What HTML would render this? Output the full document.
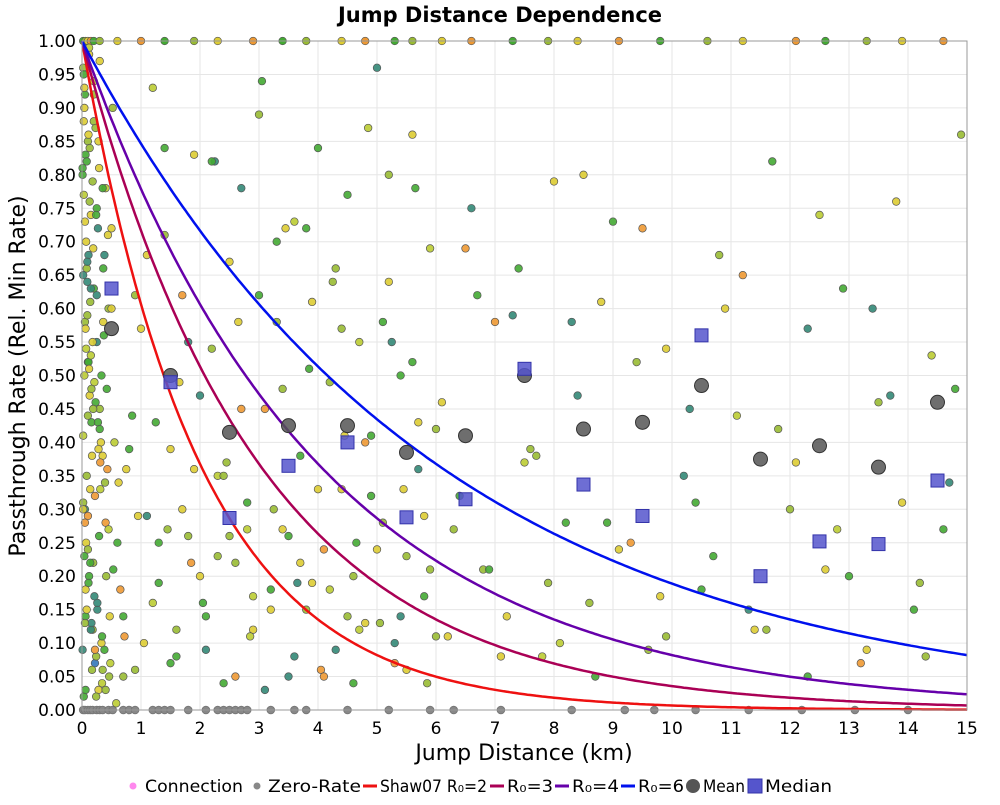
<!DOCTYPE html>
<html><head><meta charset="utf-8"><style>
body{margin:0;background:#fff;font-family:"Liberation Sans","DejaVu Sans",sans-serif}
</style></head><body>
<svg id="chart" width="1000" height="800" xmlns="http://www.w3.org/2000/svg" font-family="DejaVu Sans, Liberation Sans, sans-serif">
<rect width="1000" height="800" fill="#fff"/>
<text x="500" y="22" text-anchor="middle" font-size="21" font-weight="bold">Jump Distance Dependence</text>
<g id="grid"></g>
<g id="pts"></g>
<g id="curves"></g>
<g id="stats"></g>
<g id="axes"></g>
<text x="524" y="760" text-anchor="middle" font-size="22">Jump Distance (km)</text>
<text transform="translate(25,376) rotate(-90)" text-anchor="middle" font-size="22">Passthrough Rate (Rel. Min Rate)</text>
<g id="legend" font-size="17"></g>
</svg>
<script>
const xTicks=[0,1,2,3,4,5,6,7,8,9,10,11,12,13,14,15];
const yTicks=[0,0.05,0.1,0.15,0.2,0.25,0.3,0.35,0.4,0.45,0.5,0.55,0.6,0.65,0.7,0.75,0.8,0.85,0.9,0.95,1.0];
const r0Values=[2,3,4,6];
const r0Colors=['#ee1111','#aa0055','#6600aa','#0011ee'];
const binCenters=[0.5,1.5,2.5,3.5,4.5,5.5,6.5,7.5,8.5,9.5,10.5,11.5,12.5,13.5,14.5];
const meanValues=[0.57,0.50,0.415,0.425,0.425,0.385,0.41,0.50,0.42,0.43,0.485,0.375,0.395,0.363,0.46];
const medianValues=[0.63,0.49,0.287,0.365,0.40,0.288,0.315,0.51,0.337,0.29,0.56,0.20,0.252,0.248,0.343];
const palette=['#44aa33','#99bb33','#ddcc33','#ee9933','#338877','#3377bb','#bbcc33'];
const connX=[0.05,0.1,0.15,0.2,0.25,0.3,0.35,0.4,0.12,0.18,0.22,0.28,0.33,0.08,0.14,0.26,0.38,0.45,0.5,0.55,0.6,0.65,0.7,0.75,0.05,0.1,0.2,0.3,0.4,0.16,0.24,0.36,0.06,0.11,0.19,0.29,0.42,0.52,0.62,0.72,0.85,0.9,1.0,1.1,1.2,1.3,1.4,1.5,1.6,1.7,1.8,1.9,2.0,2.1,2.2,2.3,2.4,2.5,2.6,2.7,2.8,2.9,3.0,3.1,3.2,3.3,3.4,3.5,3.6,3.7,3.8,3.9,4.0,4.1,4.2,4.3,4.4,4.5,4.6,4.7,4.8,4.9,5.0,5.1,5.2,5.3,5.4,5.5,5.6,5.7,5.8,5.9,6.0,6.2,6.4,6.6,6.8,7.0,7.2,7.4,7.6,7.8,8.0,8.2,8.4,8.6,8.8,9.0,9.3,9.6,9.9,10.2,10.5,10.8,11.1,11.4,11.7,12.0,12.3,12.6,12.9,13.2,13.5,13.8,14.1,14.4,14.7,14.9,1.05,1.25,1.45,1.65,1.85,2.05,2.25,2.45,2.65,2.85,3.05,3.25,3.45,3.65,3.85,4.05,4.25,4.45,4.65,4.85,5.05,5.25,5.45,5.65,5.85,6.1,6.5,6.9,7.3,7.7,8.1,8.5,8.9,9.4,9.8,10.3,10.7,11.2,11.6,12.1,12.5,13.0,13.4,13.9,14.3,14.8,0.9,0.95,0.7,0.8];
const connY=[0.92,0.85,0.74,0.63,0.55,0.45,0.38,0.28,0.2,0.12,0.07,0.03,0.5,0.66,0.33,0.15,0.09,0.6,0.72,0.4,0.25,0.18,0.05,0.36,0.3,0.52,0.88,0.97,0.78,0.43,0.02,0.58,0.14,0.68,0.22,0.81,0.48,0.9,0.34,0.11,0.44,0.06,0.57,0.29,0.93,0.19,0.71,0.39,0.08,0.62,0.26,0.83,0.47,0.14,0.54,0.35,0.04,0.67,0.22,0.78,0.31,0.12,0.89,0.45,0.18,0.58,0.27,0.05,0.73,0.38,0.15,0.61,0.84,0.24,0.49,0.09,0.33,0.77,0.2,0.55,0.13,0.41,0.96,0.28,0.64,0.07,0.5,0.23,0.86,0.36,0.17,0.69,0.42,0.11,0.32,0.75,0.21,0.58,0.14,0.66,0.39,0.08,0.79,0.28,0.47,0.16,0.61,0.73,0.25,0.09,0.54,0.35,0.18,0.68,0.44,0.12,0.82,0.3,0.57,0.21,0.63,0.07,0.46,0.76,0.15,0.53,0.34,0.86,0.1,0.43,0.27,0.49,0.22,0.16,0.82,0.37,0.58,0.11,0.94,0.3,0.72,0.19,0.51,0.06,0.64,0.41,0.25,0.87,0.13,0.55,0.33,0.78,0.04,0.46,0.69,0.21,0.59,0.38,0.1,0.8,0.28,0.52,0.17,0.45,0.23,0.65,0.12,0.37,0.74,0.2,0.6,0.31,0.08,0.48,0.62,0.29,0.14,0.39,0.73,0.96,0.91,0.99];
const connC=[0,1,2,0,4,1,2,3,0,1,5,2,0,1,2,4,0,1,2,6,0,3,1,2,4,0,1,2,6,0,1,2,0,4,1,2,0,1,2,3,0,1,2,4,6,0,1,2,0,3,1,2,4,0,1,6,0,2,1,4,0,2,1,3,0,1,2,4,6,0,1,2,0,3,1,4,2,0,1,6,2,0,4,1,2,3,0,1,2,4,0,6,1,2,0,4,1,3,2,0,1,6,2,0,4,1,2,0,3,1,2,4,0,1,6,2,0,1,4,2,0,3,1,2,0,6,4,1,2,0,1,2,3,0,4,1,2,6,0,1,2,4,0,3,1,2,0,6,1,4,2,0,1,2,3,0,4,1,6,2,0,1,2,4,0,3,1,2,6,0,4,2,1,0,1,2,0];
const nearX=[0.02,0.04,0.06,0.03,0.07,0.09,0.05,0.11,0.13,0.02,0.08,0.1,0.04,0.06,0.15,0.17,0.03,0.12,0.2,0.23,0.01,0.05,0.09,0.14,0.18,0.21,0.27,0.31,0.02,0.07,0.11,0.16,0.24,0.34,0.03,0.08,0.13,0.19,0.25,0.37,0.04,0.1,0.17,0.22,0.29,0.41,0.47,0.01,0.06,0.12,0.2,0.28,0.35,0.44,0.02,0.09,0.15,0.23,0.32,0.39,0.05,0.14,0.26,0.33,0.46,0.58,0.03,0.11,0.18,0.27,0.36,0.5,0.07,0.16,0.3,0.43,0.02,0.1,0.21,0.34,0.48,0.04,0.13,0.25,0.38,0.06,0.19,0.31,0.53,0.08,0.22,0.4,0.01,0.15,0.28,0.45,0.05,0.24,0.12,0.35];
const nearY=[0.96,0.9,0.83,0.77,0.7,0.64,0.58,0.52,0.47,0.41,0.35,0.29,0.23,0.18,0.12,0.06,0.02,0.98,0.94,0.87,0.8,0.73,0.67,0.61,0.55,0.49,0.43,0.37,0.31,0.25,0.19,0.13,0.08,0.04,0.88,0.82,0.76,0.69,0.62,0.56,0.5,0.44,0.38,0.32,0.26,0.2,0.14,0.09,0.03,0.99,0.92,0.85,0.78,0.71,0.65,0.59,0.53,0.46,0.4,0.34,0.28,0.22,0.16,0.1,0.05,0.01,0.95,0.86,0.79,0.72,0.66,0.6,0.54,0.48,0.42,0.36,0.3,0.24,0.17,0.11,0.07,0.93,0.84,0.75,0.68,0.57,0.45,0.33,0.21,0.15,0.09,0.03,0.81,0.63,0.39,0.27,0.13,0.74,0.51,0.06];
const nearC=[1,2,0,6,2,4,1,0,2,6,1,3,0,2,4,1,0,2,6,1,0,2,4,1,2,6,0,3,1,2,0,4,1,6,2,0,1,2,4,0,6,1,2,3,0,1,2,4,0,6,1,2,0,2,4,1,6,0,2,1,3,0,4,2,1,6,0,2,1,4,0,2,6,1,0,3,2,1,4,0,6,2,1,0,4,2,1,6,0,2,3,1,0,4,2,6,1,0,2,1];
const midX=[1.1,1.3,1.6,1.8,2.0,2.2,2.4,2.6,2.8,3.0,3.2,3.4,3.6,3.8,4.0,4.2,4.4,4.6,4.8,5.0,5.2,5.4,5.6,5.8,6.0,1.2,1.5,1.9,2.3,2.7,3.1,3.5,3.9,4.3,4.7,5.1,5.5,5.9,1.4,1.7,2.1,2.5,2.9,3.3,3.7,4.1,4.5,4.9,5.3,5.7,6.3,6.7,7.1,7.5,7.9,8.3,8.7,9.1,9.5,9.9,10.4,10.9,11.3,11.8,12.3,12.8,13.3,13.7,14.2,14.6];
const midY=[0.68,0.25,0.12,0.55,0.2,0.82,0.35,0.05,0.27,0.62,0.15,0.48,0.08,0.72,0.33,0.18,0.57,0.04,0.4,0.24,0.8,0.14,0.52,0.29,0.11,0.16,0.07,0.36,0.23,0.45,0.03,0.26,0.19,0.66,0.12,0.58,0.06,0.21,0.84,0.3,0.09,0.26,0.17,0.7,0.22,0.05,0.14,0.32,0.1,0.43,0.27,0.62,0.08,0.37,0.19,0.58,0.05,0.24,0.72,0.11,0.31,0.6,0.15,0.42,0.05,0.27,0.09,0.47,0.19,0.27];
const midC=[2,0,1,4,2,0,1,3,6,0,2,1,4,0,2,6,1,0,3,2,1,4,0,2,1,6,0,2,1,3,4,0,2,1,6,0,2,1,0,2,4,1,6,0,2,3,1,0,4,2,1,0,2,6,1,4,0,2,3,1,0,2,4,1,0,6,2,4,1,0];
const zeroX=[0.02,0.05,0.1,0.14,0.18,0.25,0.3,0.35,0.45,0.52,0.7,0.8,0.9,1.2,1.3,1.4,1.5,1.8,2.1,2.3,2.4,2.5,2.6,2.7,2.8,3.2,3.6,3.8,4.5,5.2,5.9,6.3,7.1,8.3,9.2,9.7,10.4,11.3,12.2,13.1,14.0];
const topX=[0.02,0.06,0.1,0.15,0.2,0.3,0.6,1.0,1.4,1.9,2.3,2.9,3.4,3.8,4.4,4.8,5.3,5.6,6.1,6.6,7.3,7.9,8.4,9.1,9.8,10.6,11.2,12.1,12.6,13.3,13.9,14.6];
const X=v=>82+v*(967-82)/15;
const Y=v=>710-v*(710-41);
const NS='http://www.w3.org/2000/svg';
function mk(t,a,p){const e=document.createElementNS(NS,t);for(const k in a)e.setAttribute(k,a[k]);p.appendChild(e);return e;}
const grid=document.getElementById('grid'),axes=document.getElementById('axes');
xTicks.forEach(t=>{const l=mk('line',{x1:X(t),x2:X(t),y1:41,y2:710,stroke:'#e6e6e6'},grid);

const tx=mk('text',{x:X(t),y:734,'text-anchor':'middle','font-size':17},axes);tx.textContent=t;
});
yTicks.forEach(t=>{const l=mk('line',{x1:82,x2:967,y1:Y(t),y2:Y(t),stroke:'#e6e6e6'},grid);

const tx=mk('text',{x:76,y:Y(t)+6,'text-anchor':'end','font-size':17},axes);tx.textContent=t.toFixed(2);
});
mk('rect',{x:82,y:41,width:885,height:669,fill:'none',stroke:'#999'},axes);
const pts=document.getElementById('pts');
zeroX.forEach(x=>{const c=mk('circle',{cx:X(x),cy:Y(0),r:3.8,fill:'#888',stroke:'#777'},pts);
});
topX.forEach((x,i)=>{const c=mk('circle',{cx:X(x),cy:Y(1),r:3.8,fill:palette[i%4],stroke:'#555','stroke-width':0.7},pts);
});
function drawSet(xs,ys,cs){xs.forEach((x,i)=>{const c=mk('circle',{cx:X(x),cy:Y(ys[i]),r:3.8,fill:palette[cs[i%cs.length]],stroke:'#555','stroke-width':0.7,'fill-opacity':0.9},pts);
});}
drawSet(connX,connY,connC);drawSet(nearX,nearY,nearC);drawSet(midX,midY,midC);
const curves=document.getElementById('curves');
r0Values.forEach((r,i)=>{let d='';for(let k=0;k<=300;k++){const x=15*k/300;d+=(k?'L':'M')+X(x).toFixed(1)+','+Y(Math.exp(-x/r)).toFixed(1);}
const p=mk('path',{d:d,fill:'none',stroke:r0Colors[i],'stroke-width':2.5},curves);
});
const stats=document.getElementById('stats');
binCenters.forEach((x,i)=>{const c=mk('circle',{cx:X(x),cy:Y(meanValues[i]),r:7,fill:'#555','fill-opacity':0.85,stroke:'#333'},stats);

const s=mk('rect',{x:X(x)-6.5,y:Y(medianValues[i])-6.5,width:13,height:13,fill:'#5555cc','fill-opacity':0.85,stroke:'#3333aa'},stats);
});
const lg=document.getElementById('legend');
function ltext(x,t,n,w){const e=mk('text',{x:x,y:792,textLength:w,lengthAdjust:'spacingAndGlyphs'},lg);e.textContent=t;}
let c=mk('circle',{cx:133,cy:786,r:3.5,fill:'#ff88ee'},lg);
ltext(145,'Connection','legend-connection',98);
c=mk('circle',{cx:257,cy:786,r:3.5,fill:'#888'},lg);
ltext(268,'Zero-Rate','legend-zero-rate',93);
const lx=[[363,'Shaw07 R₀=2',107],[490,'R₀=3',46],[555,'R₀=4',47],[621,'R₀=6',46]];
lx.forEach((a,i)=>{const l=mk('line',{x1:a[0],x2:a[0]+14,y1:786,y2:786,stroke:r0Colors[i],'stroke-width':3},lg);

ltext(a[0]+17,a[1],'legend-r0-'+r0Values[i],a[2]);});
c=mk('circle',{cx:693,cy:786,r:7,fill:'#555'},lg);
ltext(703,'Mean','legend-mean',42);
c=mk('rect',{x:748,y:779,width:14,height:14,fill:'#5555cc',stroke:'#3333aa'},lg);
ltext(765,'Median','legend-median',67);
</script>
</body></html>
